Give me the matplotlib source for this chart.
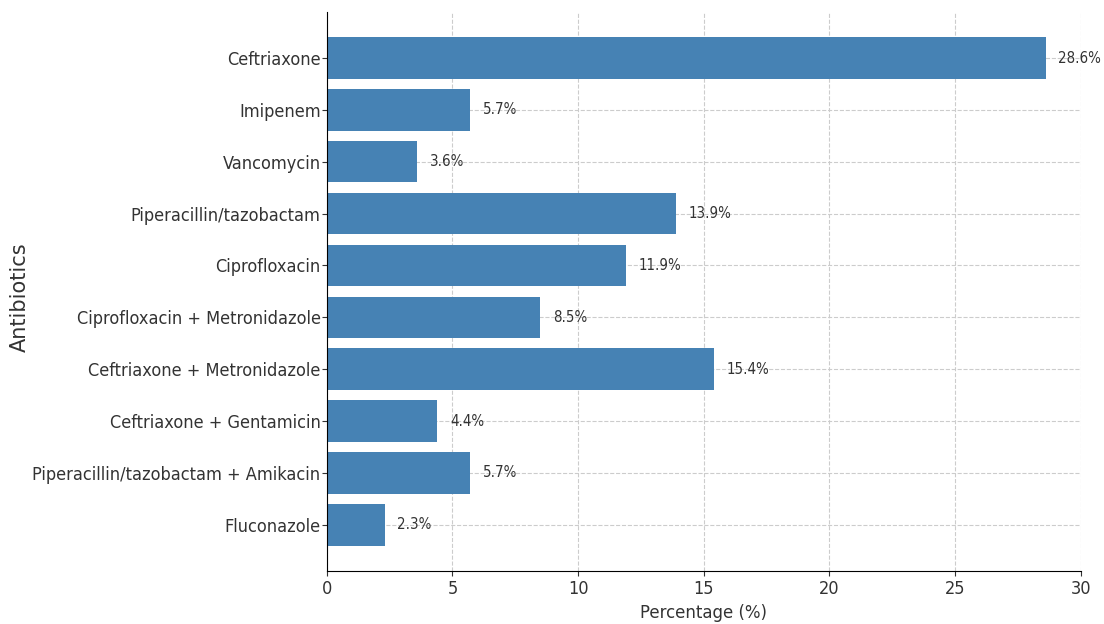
import matplotlib
matplotlib.use("Agg")
import matplotlib.pyplot as plt

antibiotics = [
    "Ceftriaxone",
    "Imipenem",
    "Vancomycin",
    "Piperacillin/tazobactam",
    "Ciprofloxacin",
    "Ciprofloxacin + Metronidazole",
    "Ceftriaxone + Metronidazole",
    "Ceftriaxone + Gentamicin",
    "Piperacillin/tazobactam + Amikacin",
    "Fluconazole",
]
percentages = [28.6, 5.7, 3.6, 13.9, 11.9, 8.5, 15.4, 4.4, 5.7, 2.3]

plt.rcParams['font.family'] = ['DejaVu Sans']
plt.rcParams['font.stretch'] = 'condensed'
plt.rcParams['text.color'] = '#333333'
plt.rcParams['xtick.color'] = '#333333'
plt.rcParams['ytick.color'] = '#333333'

fig, ax = plt.subplots(figsize=(11.04, 6.24), dpi=100)
fig.subplots_adjust(left=0.296, right=0.979, top=0.981, bottom=0.085)

ax.barh(antibiotics, percentages, color='#4682B4', height=0.8, zorder=2)
ax.invert_yaxis()

# value labels just past the end of each bar
for i, v in enumerate(percentages):
    ax.text(v + 0.5, i, f"{v}%", va='center', ha='left', fontsize=10.8)

ax.set_xlim(0, 30)
ax.set_xlabel("Percentage (%)", fontsize=13.2, color='#333333', labelpad=4)
ax.set_ylabel("Antibiotics", fontsize=15, color='#333333', fontstretch='normal')
ax.yaxis.set_label_coords(-0.394, 0.49)
ax.tick_params(axis='both', labelsize=13)
ax.tick_params(axis='y', pad=1)
ax.tick_params(axis='x', pad=3)
ax.grid(True, linestyle='--', color='#cccccc', linewidth=0.8, zorder=0)
ax.set_axisbelow(True)
ax.spines['top'].set_visible(False)
ax.spines['right'].set_visible(False)

fig.savefig("out.png", dpi=100)
